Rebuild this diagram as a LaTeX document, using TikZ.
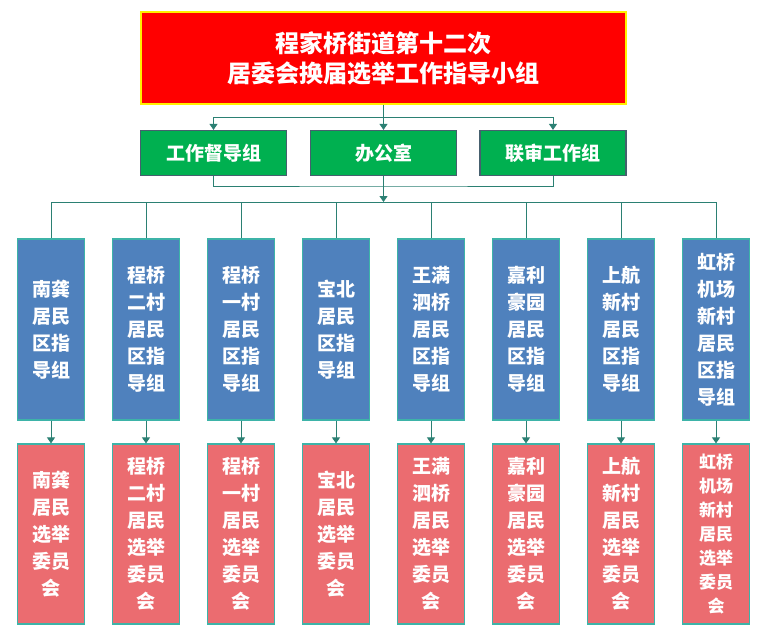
\documentclass[tikz,border=0pt]{standalone}
\usepackage{fontspec}
\setmainfont{Noto Sans CJK SC}
\usetikzlibrary{arrows.meta,calc}
\definecolor{conn}{HTML}{2B8073}
\definecolor{tealb}{HTML}{3DB3A8}
\definecolor{bluef}{HTML}{4F81BD}
\definecolor{redf}{HTML}{EB6C70}
\definecolor{greenf}{HTML}{00B050}
\definecolor{greenb}{HTML}{46606E}
\begin{document}
\begin{tikzpicture}[x=1pt,y=-1pt,
  box/.style={draw,line width=1.2pt,inner sep=0pt,align=center,text=white,font=\bfseries\fontsize{19}{27}\selectfont},
  topbox/.style={box,fill=red,draw={rgb,255:red,255;green,240;blue,0},minimum width=485pt,minimum height=92pt,font=\bfseries\fontsize{24}{30}\selectfont},
  grbox/.style={box,fill=greenf,draw=greenb,minimum width=146pt,minimum height=45pt},
  blbox/.style={box,fill=bluef,draw=tealb,minimum width=67pt,minimum height=181pt},
  rdbox/.style={box,fill=redf,draw=tealb,minimum width=67pt,minimum height=180pt},
  link/.style={draw=conn,line width=1pt},
  arr/.style={link,-{Triangle[width=8pt,length=6pt]}}]
\useasboundingbox (0,0) rectangle (767,640);

\node[topbox] (top) at (383.5,58) {程家桥街道第十二次\\居委会换届选举工作指导小组};

\node[grbox] (g1) at (213.5,153) {工作督导组};
\node[grbox] (g2) at (383.5,153) {办公室};
\node[grbox] (g3) at (553,153) {联审工作组};

\foreach \i/\t in {1/{南龚\\居民\\区指\\导组},2/{程桥\\二村\\居民\\区指\\导组},3/{程桥\\一村\\居民\\区指\\导组},4/{宝北\\居民\\区指\\导组},5/{王满\\泗桥\\居民\\区指\\导组},6/{嘉利\\豪园\\居民\\区指\\导组},7/{上航\\新村\\居民\\区指\\导组},8/{虹桥\\机场\\新村\\居民\\区指\\导组}}{
  \node[blbox] (b\i) at ({51+95*(\i-1)},329.5) {\t};
}
\foreach \i/\t in {1/{南龚\\居民\\选举\\委员\\会},2/{程桥\\二村\\居民\\选举\\委员\\会},3/{程桥\\一村\\居民\\选举\\委员\\会},4/{宝北\\居民\\选举\\委员\\会},5/{王满\\泗桥\\居民\\选举\\委员\\会},6/{嘉利\\豪园\\居民\\选举\\委员\\会},7/{上航\\新村\\居民\\选举\\委员\\会}}{
  \node[rdbox] (r\i) at ({51+95*(\i-1)},534) {\t};
}
\node[rdbox,font=\bfseries\fontsize{17}{24}\selectfont] (r8) at (716,534) {虹桥\\机场\\新村\\居民\\选举\\委员\\会};

% top to green
\coordinate (t1) at (383.5,117);
\draw[arr] (top.south) -- (g2.north);
\draw[arr] (t1) -| (g1.north);
\draw[arr] (t1) -| (g3.north);

% green to bus
\coordinate (j) at (383.5,186);
\coordinate (bus) at (383.5,202);
\draw[link] (g1.south) |- (j) -| (g3.south);
\draw[arr] (g2.south) -- (bus);
\draw[link] (b1.north|-bus) -- (b8.north|-bus);
\foreach \i in {1,...,8}{
  \draw[link] (b\i.north|-bus) -- (b\i.north);
  \draw[arr] (b\i.south) -- (r\i.north);
}
\end{tikzpicture}
\end{document}
